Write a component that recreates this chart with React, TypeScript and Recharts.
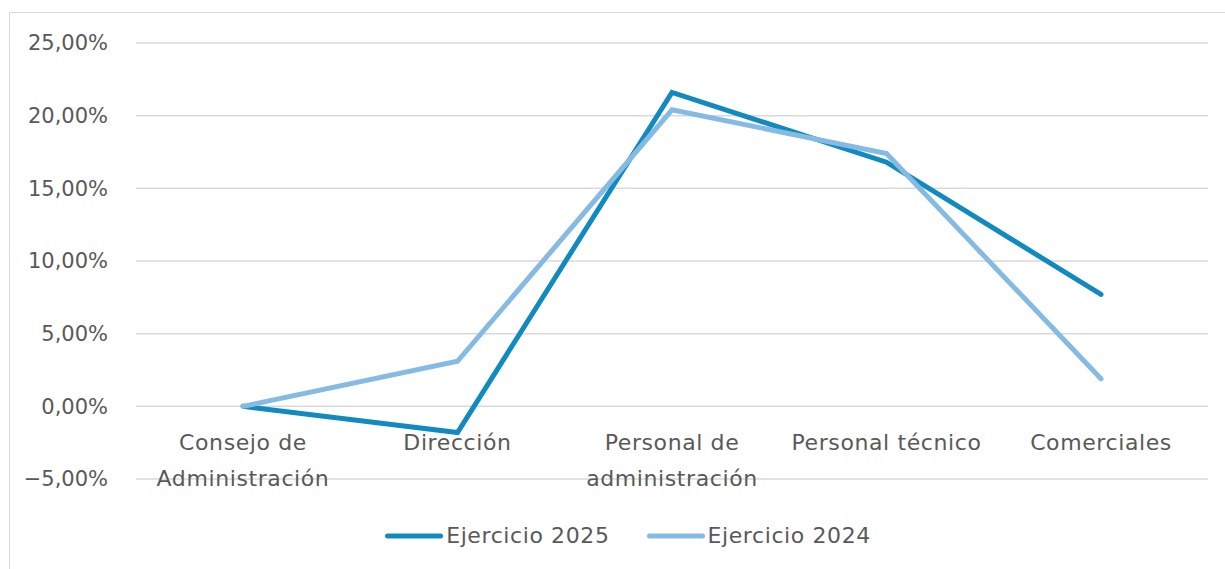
import { LineChart, Line, XAxis, YAxis, CartesianGrid, Legend } from 'recharts';

// Categories and values (percent)
const categories = [
  'Consejo de Administración',
  'Dirección',
  'Personal de administración',
  'Personal técnico',
  'Comerciales',
];
const ejercicio2025 = [0, -1.8, 21.6, 16.8, 7.7];
const ejercicio2024 = [0, 3.1, 20.4, 17.4, 1.9];
const yTicks = [-5, 0, 5, 10, 15, 20, 25];

// Split multi-line category labels as Excel wraps them
const categoryLines: Record<string, string[]> = {
  'Consejo de Administración': ['Consejo de', 'Administración'],
  'Personal de administración': ['Personal de', 'administración'],
};

const DARK = '#118AC0';
const LIGHT = '#85BBE2';
const TEXT = '#595959';
const FONT = '"DejaVu Sans", sans-serif';

const PLOT_TOP = 43;
const PLOT_BOTTOM = 477;
// distance from the axis (at -5%) up to the 0% line
const ZERO_SHIFT = ((PLOT_BOTTOM - PLOT_TOP) * 5) / 30;

const data = categories.map((name, i) => ({
  name,
  e2025: ejercicio2025[i],
  e2024: ejercicio2024[i],
}));

function formatPct(v: number): string {
  return v.toFixed(2).replace('.', ',').replace('-', '−') + '%';
}

function CategoryTick(props: any) {
  const { x, payload } = props;
  const lines = categoryLines[payload.value] || [payload.value];
  const baseY = PLOT_BOTTOM - ZERO_SHIFT + 45;
  return (
    <text
      x={x}
      y={baseY}
      textAnchor="middle"
      fill={TEXT}
      fontSize={22}
      fontFamily={FONT}
      letterSpacing={0.6}
    >
      {lines.map((l, i) => (
        <tspan key={i} x={x} y={baseY + i * 36}>
          {l}
        </tspan>
      ))}
    </text>
  );
}

function LegendContent() {
  const items = [
    { label: 'Ejercicio 2025', color: DARK },
    { label: 'Ejercicio 2024', color: LIGHT },
  ];
  return (
    <div
      style={{
        display: 'flex',
        justifyContent: 'center',
        gap: 37,
        paddingLeft: 48,
        paddingTop: 4,
        fontFamily: FONT,
        fontSize: 22,
        letterSpacing: 0.6,
        color: TEXT,
      }}
    >
      {items.map((it) => (
        <div key={it.label} style={{ display: 'flex', alignItems: 'center' }}>
          <svg width={58} height={10} style={{ marginRight: 3 }}>
            <line x1={2.5} y1={5} x2={55.5} y2={5} stroke={it.color} strokeWidth={5} strokeLinecap="round" />
          </svg>
          <span>{it.label}</span>
        </div>
      ))}
    </div>
  );
}

export default function App() {
  return (
    <div style={{ position: 'absolute', left: 0, top: 0, width: 1225, height: 569, background: '#fff', overflow: 'hidden' }}>
      <div
        style={{
          position: 'absolute',
          left: 9,
          top: 12,
          width: 1240,
          height: 580,
          border: '1.5px solid #d9d9d9',
          boxSizing: 'border-box',
        }}
      />
      <div style={{ position: 'absolute', left: 0, top: 0 }}>
        <LineChart
          width={1225}
          height={569}
          data={data}
          margin={{ top: PLOT_TOP, right: 17, left: 0, bottom: 10 }}
        >
          <CartesianGrid vertical={false} stroke="#d9d9d9" strokeWidth={1.5} />
          <XAxis
            dataKey="name"
            axisLine={false}
            tickLine={false}
            tick={<CategoryTick />}
            height={40}
            interval={0}
            padding={{ left: 107, right: 107 }}
          />
          <YAxis
            type="number"
            domain={[-5, 25]}
            ticks={yTicks}
            tickFormatter={formatPct}
            axisLine={false}
            tickLine={false}
            width={136}
            tickMargin={22}
            tick={{ fill: TEXT, fontSize: 21, fontFamily: FONT }}
          />
          <Legend verticalAlign="bottom" height={40} content={<LegendContent />} />
          <Line
            type="linear"
            dataKey="e2025"
            name="Ejercicio 2025"
            stroke={DARK}
            strokeWidth={5}
            strokeLinecap="round"
            dot={false}
            activeDot={false}
            isAnimationActive={false}
          />
          <Line
            type="linear"
            dataKey="e2024"
            name="Ejercicio 2024"
            stroke={LIGHT}
            strokeWidth={5}
            strokeLinecap="round"
            dot={false}
            activeDot={false}
            isAnimationActive={false}
          />
        </LineChart>
      </div>
    </div>
  );
}
